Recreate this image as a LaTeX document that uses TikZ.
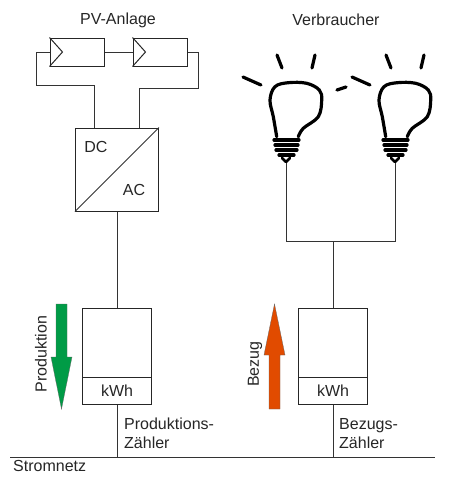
\documentclass[tikz,border=0pt]{standalone}
\usepackage{fontspec}
\setmainfont{Liberation Sans}
\usetikzlibrary{calc}
\begin{document}
\begin{tikzpicture}[x=1pt,y=-1pt,
  font=\fontsize{16}{19}\selectfont,
  wire/.style={draw=black!80,line width=0.9pt},
  boxline/.style={draw=black!85,line width=1pt},
  module/.style={boxline,rectangle,minimum width=54pt,minimum height=28pt,inner sep=0pt},
  inv/.style={boxline,rectangle,minimum width=83pt,minimum height=83pt,inner sep=0pt},
  meter/.style={boxline,rectangle,minimum width=69pt,minimum height=96pt,inner sep=0pt},
  lbl/.style={inner sep=0pt,text=black!85},
  lampline/.style={line width=3.2pt,line cap=round,line join=round,black},
  lamp/.pic={
    \draw[lampline] plot[smooth,tension=0.6] coordinates {(-9.3,-26.3) (-12.7,-46.3) (-16,-63) (-11,-76.3) (2.3,-80.3) (20.7,-79.7) (33.3,-73) (35.7,-63) (32.3,-46.3) (17.3,-34.7) (12.3,-26.3)};
    \draw[lampline] (-12,-23) -- (13,-23);
    \draw[lampline] (-11,-18) -- (12,-18);
    \draw[lampline] (-10,-13) -- (11,-13);
    \draw[lampline] (-7,-8) -- (8,-8);
    \draw[lampline,line width=2.5pt] (-4,-5) -- (0,-1) -- (4,-5);
    \draw[lampline] (-43,-86) -- (-25,-78);
    \draw[lampline] (-9,-108) -- (-4,-95);
    \draw[lampline] (29,-108) -- (26,-95);
  }]
\useasboundingbox (0,0) rectangle (460,477);
% labels
\node[lbl] (pvl) at (118,20) {PV-Anlage};
\node[lbl] (vbl) at (336,20) {Verbraucher};
% PV modules
\node[module] (m1) at (77,52) {};
\node[module] (m2) at (160,52) {};
\foreach \m in {m1,m2}{
  \draw[boxline] (\m.north west) -- ($(\m.west)+(13,0)$) -- (\m.south west);
}
% inverter
\node[inv] (inv) at (117,169.5) {};
\draw[wire] (inv.south west) -- (inv.north east);
\node[lbl] (dc) at (96,147) {DC};
\node[lbl] (ac) at (134,190) {AC};
% PV wiring
\coordinate (a1) at (36,52);
\coordinate (a2) at (36,85);
\coordinate (a3) at (94,85);
\coordinate (b1) at (198,52);
\coordinate (b2) at (198,88);
\coordinate (b3) at (139,88);
\draw[wire] (m1.east) -- (m2.west);
\draw[wire] (m1.west) -- (a1) -- (a2) -- (a3) -- (a3 |- inv.north);
\draw[wire] (m2.east) -- (b1) -- (b2) -- (b3) -- (b3 |- inv.north);
% meters
\node[meter] (z1) at (117,356) {};
\node[meter] (z2) at (333,356) {};
\foreach \z in {z1,z2}{
  \draw[boxline] ($(\z.south west)+(0,-27)$) -- ($(\z.south east)+(0,-27)$);
}
\node[lbl] (k1) at ($(z1.south)+(0,-13.5)$) {kWh};
\node[lbl] (k2) at ($(z2.south)+(0,-13.5)$) {kWh};
\draw[wire] (inv.south) -- (z1.north);
% grid
\coordinate (g0) at (10,457);
\coordinate (g1) at (435,457);
\draw[wire] (g0) -- (g1);
\node[lbl,anchor=west] (sn) at (13,466) {Stromnetz};
\draw[wire] (z1.south) -- (z1.south |- g0);
\draw[wire] (z2.south) -- (z2.south |- g0);
\node[lbl,anchor=west,align=left] (pz) at (124,433.5) {Produktions-\\Zähler};
\node[lbl,anchor=west,align=left] (bz) at (339,433.5) {Bezugs-\\Zähler};
% lamps
\coordinate (l1) at (286,163);
\coordinate (l2) at (395,163);
\pic at (l1) {lamp};
\pic at (l2) {lamp};
\draw[lampline] ($(l2)+(-58,-73)$) -- ($(l2)+(-49,-76)$);
\coordinate (j) at (333,241);
\draw[wire] (l1) -- (l1 |- j) -- (l2 |- j) -- (l2);
\draw[wire] (j) -- (z2.north);
% flow arrows
\definecolor{prodgreen}{RGB}{0,155,70}
\definecolor{bezred}{RGB}{225,75,0}
\fill[prodgreen,draw=black!60,line width=0.3pt] (56,304) -- (67,304) -- (67,357) -- (72,357) -- (61.5,409) -- (51,357) -- (56,357) -- cycle;
\fill[bezred,draw=black!60,line width=0.3pt] (269,409) -- (280,409) -- (280,355) -- (285,355) -- (274.5,304) -- (264,355) -- (269,355) -- cycle;
\node[lbl,rotate=90] (pr) at (41,354) {Produktion};
\node[lbl,rotate=90] (bg) at (255,364) {Bezug};
\end{tikzpicture}
\end{document}
